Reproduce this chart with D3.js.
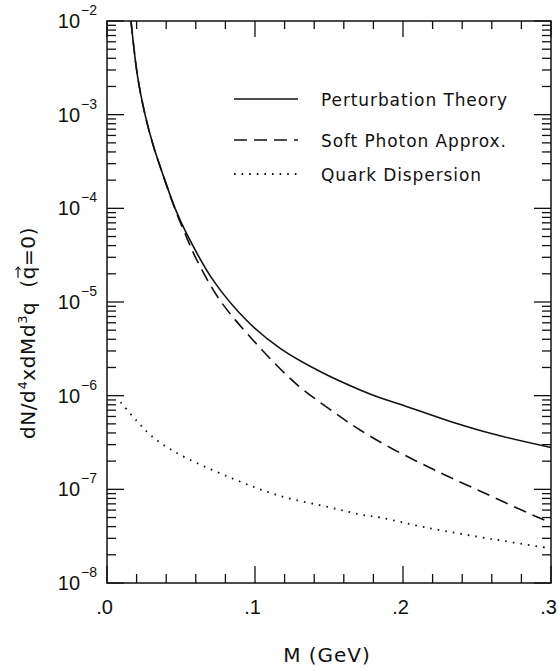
<!DOCTYPE html>
<html>
<head>
<meta charset="utf-8">
<script src="https://cdn.jsdelivr.net/npm/d3@7"></script>
<style>
  html, body { margin: 0; padding: 0; background: #fff; }
  svg text { font-family: "DejaVu Sans", "Liberation Sans", sans-serif; fill: #111; white-space: pre; }
  svg text.num { font-family: "Liberation Sans", "DejaVu Sans", sans-serif; }
</style>
</head>
<body>
<svg id="chart" width="558" height="671"></svg>
<script>
// Dilepton rate vs invariant mass, three calculations
const ptM   = [0.0162, 0.0207, 0.0257, 0.0313, 0.037, 0.046, 0.0538, 0.0718, 0.0944, 0.117, 0.144, 0.171, 0.1845, 0.198, 0.232, 0.261, 0.300];
const ptVal = [1.0e-2, 2.53e-3, 1.0e-3, 4.66e-4, 2.49e-4, 1.0e-4, 5.36e-5, 1.70e-5, 6.34e-6, 3.2e-6, 1.81e-6, 1.15e-6, 9.5e-7, 8.1e-7, 5.3e-7, 3.89e-7, 2.80e-7];

const spM   = [0.0162, 0.0207, 0.0257, 0.0313, 0.037, 0.046, 0.0538, 0.0608, 0.0764, 0.101, 0.128, 0.155, 0.171, 0.193, 0.225, 0.2565, 0.289, 0.300];
const spVal = [1.0e-2, 2.53e-3, 1.0e-3, 4.66e-4, 2.49e-4, 9.8e-5, 4.9e-5, 2.78e-5, 1.04e-5, 3.57e-6, 1.33e-6, 6.37e-7, 4.3e-7, 2.7e-7, 1.51e-7, 8.9e-8, 5.2e-8, 4.4e-8];

const qdM   = [0.0092, 0.020, 0.030, 0.046, 0.083, 0.117, 0.151, 0.171, 0.1845, 0.216, 0.261, 0.296];
const qdVal = [8.5e-7, 5.4e-7, 3.73e-7, 2.5e-7, 1.34e-7, 8.5e-8, 6.4e-8, 5.4e-8, 5.0e-8, 3.9e-8, 2.93e-8, 2.39e-8];

const seriesNames = ["Perturbation Theory", "Soft Photon Approx.", "Quark Dispersion"];

const xMajorTicks  = [0, 0.1, 0.2, 0.3];
const xTickLabels  = [".0", ".1", ".2", ".3"];
const yExponents   = [-2, -3, -4, -5, -6, -7, -8];

const svg = d3.select("#chart");
const L = 107, R = 551, T = 21, B = 583;

const x = d3.scaleLinear().domain([0, 0.3]).range([L, R]);
const y = d3.scaleLog().domain([1e-8, 1e-2]).range([B, T]);

svg.append("clipPath").attr("id", "plotClip")
  .append("rect").attr("x", L).attr("y", T).attr("width", R - L).attr("height", B - T);

// Frame
svg.append("rect").attr("x", L).attr("y", T).attr("width", R - L).attr("height", B - T)
  .attr("fill", "none").attr("stroke", "#111").attr("stroke-width", 1.5);

// x ticks (bottom and top, pointing inward)
const xMinor = d3.range(0, 0.3001, 0.02).filter(v => !xMajorTicks.some(m => Math.abs(m - v) < 1e-9));
const tickG = svg.append("g").attr("stroke", "#111").attr("stroke-width", 1.3);
xMajorTicks.forEach(v => {
  tickG.append("line").attr("x1", x(v)).attr("x2", x(v)).attr("y1", B).attr("y2", B - 17);
  tickG.append("line").attr("x1", x(v)).attr("x2", x(v)).attr("y1", T).attr("y2", T + 16);
});
xMinor.forEach(v => {
  tickG.append("line").attr("x1", x(v)).attr("x2", x(v)).attr("y1", B).attr("y2", B - 9);
  tickG.append("line").attr("x1", x(v)).attr("x2", x(v)).attr("y1", T).attr("y2", T + 8);
});

// y ticks (left and right, pointing inward)
yExponents.forEach(e => {
  const v = Math.pow(10, e);
  tickG.append("line").attr("x1", L).attr("x2", L + 17).attr("y1", y(v)).attr("y2", y(v));
  tickG.append("line").attr("x1", R).attr("x2", R - 17).attr("y1", y(v)).attr("y2", y(v));
  if (e >= -2) return;
  for (let k = 2; k <= 9; k++) {
    const mv = k * Math.pow(10, e);
    tickG.append("line").attr("x1", L).attr("x2", L + 9).attr("y1", y(mv)).attr("y2", y(mv));
    tickG.append("line").attr("x1", R).attr("x2", R - 9).attr("y1", y(mv)).attr("y2", y(mv));
  }
});

// y tick labels 10^n
yExponents.forEach(e => {
  const t = svg.append("text").attr("class", "num").attr("x", 97).attr("y", y(Math.pow(10, e)) + 7)
    .attr("text-anchor", "end").attr("font-size", 20);
  t.append("tspan").text("10");
  t.append("tspan").attr("dx", 1).attr("dy", -13).attr("font-size", 14).text("\u2212" + (-e));
});

// x tick labels
xMajorTicks.forEach((v, i) => {
  svg.append("text").attr("class", "num").attr("x", x(v) + 6).attr("y", 614)
    .attr("text-anchor", "end").attr("font-size", 20).text(xTickLabels[i]);
});

// x axis title
svg.append("text").attr("x", 327).attr("y", 662).attr("text-anchor", "middle")
  .attr("font-size", 20).attr("letter-spacing", 1).text("M (GeV)");

// y axis title, rotated
const yt = svg.append("g").attr("transform", "translate(35,333) rotate(-90)");
const ytText = yt.append("text").attr("text-anchor", "middle").attr("font-size", 20)
  .attr("letter-spacing", 0.6);
ytText.append("tspan").text("dN/d");
ytText.append("tspan").attr("dy", -8).attr("font-size", 13).text("4");
ytText.append("tspan").attr("dy", 8).text("xdMd");
ytText.append("tspan").attr("dy", -8).attr("font-size", 13).text("3");
ytText.append("tspan").attr("dy", 8).text("q  (");
ytText.append("tspan").text("q");
ytText.append("tspan").text("=0)");
// arrow over the vector q
{
  const node = ytText.node();
  const idx = node.textContent.lastIndexOf("q");
  const start = node.getStartPositionOfChar(idx);
  const end = node.getEndPositionOfChar(idx);
  const ax1 = start.x + 1.5, ax2 = end.x - 1, ay = start.y - 17;
  yt.append("line").attr("x1", ax1).attr("x2", ax2).attr("y1", ay).attr("y2", ay)
    .attr("stroke", "#111").attr("stroke-width", 1.2);
  yt.append("path").attr("d", `M${ax2 - 3},${ay - 2.5} L${ax2},${ay} L${ax2 - 3},${ay + 2.5}`)
    .attr("fill", "none").attr("stroke", "#111").attr("stroke-width", 1.1);
}

// Curves
const line = d3.line().x(d => x(d[0])).y(d => y(d[1])).curve(d3.curveCatmullRom.alpha(0.5));
const plot = svg.append("g").attr("clip-path", "url(#plotClip)");
const styles = [
  { dash: null, width: 1.6 },
  { dash: "13,7", width: 1.6 },
  { dash: "1.6,6", width: 1.8 }
];
const seriesData = [
  d3.zip(ptM, ptVal),
  d3.zip(spM, spVal),
  d3.zip(qdM, qdVal)
];
seriesData.forEach((data, i) => {
  plot.append("path").datum(data).attr("d", line)
    .attr("fill", "none").attr("stroke", "#111")
    .attr("stroke-width", styles[i].width)
    .attr("stroke-dasharray", styles[i].dash);
});

// Legend
const legendY = [99, 140, 174];
seriesNames.forEach((name, i) => {
  svg.append("line").attr("x1", 234).attr("x2", 298).attr("y1", legendY[i]).attr("y2", legendY[i])
    .attr("stroke", "#111").attr("stroke-width", styles[i].width)
    .attr("stroke-dasharray", styles[i].dash);
  svg.append("text").attr("x", 321).attr("y", legendY[i] + 7)
    .attr("font-size", 17).attr("letter-spacing", 0.9).text(name);
});
</script>
</body>
</html>
